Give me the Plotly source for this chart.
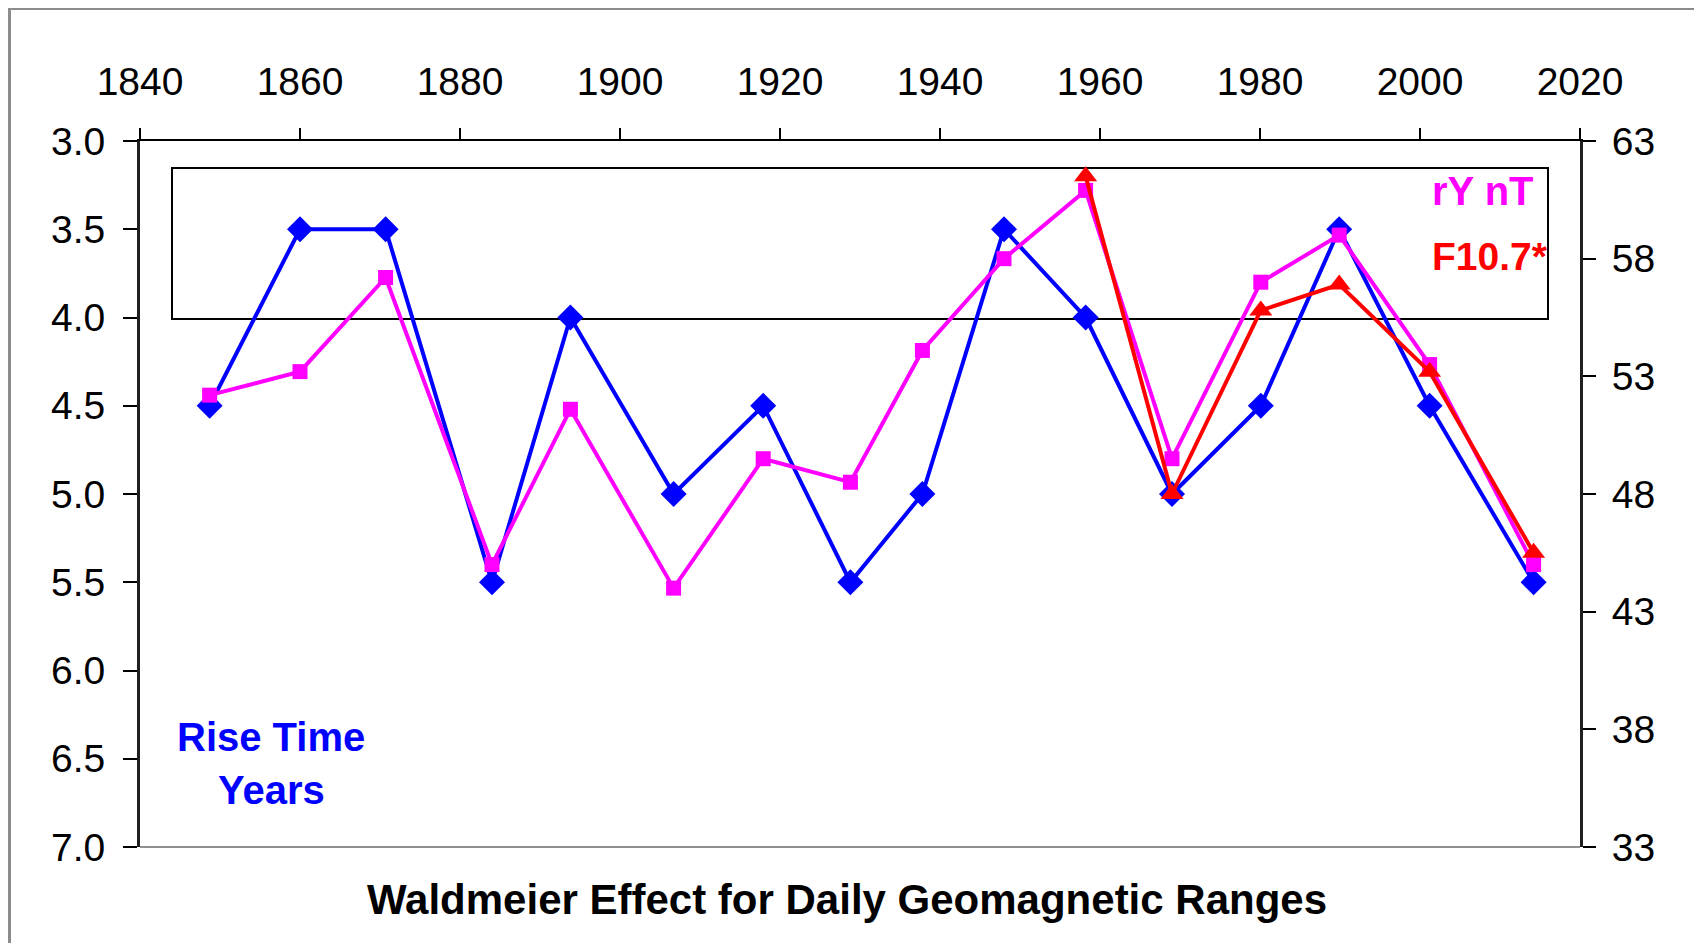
import plotly.graph_objects as go

# ---- data ----
cycle_years = [1848.7, 1860.0, 1870.7, 1884.0, 1893.8, 1906.7, 1917.9, 1928.8,
               1937.8, 1948.0, 1958.2, 1969.0, 1980.1, 1989.9, 2001.2, 2014.2]
rise_time_years = [4.5, 3.5, 3.5, 5.5, 4.0, 5.0, 4.5, 5.5,
                   5.0, 3.5, 4.0, 5.0, 4.5, 3.5, 4.5, 5.5]
ry_nT = [52.2, 53.2, 57.2, 45.0, 51.6, 44.0, 49.5, 48.5,
         54.1, 58.0, 60.9, 49.5, 57.0, 59.0, 53.5, 45.0]
f107_years = [1958.2, 1969.0, 1980.1, 1989.9, 2001.2, 2014.2]
f107_star = [61.5, 48.0, 55.8, 56.9, 53.2, 45.5]

x_ticks = [1840, 1860, 1880, 1900, 1920, 1940, 1960, 1980, 2000, 2020]
left_ticks = [3.0, 3.5, 4.0, 4.5, 5.0, 5.5, 6.0, 6.5, 7.0]
right_ticks = [33, 38, 43, 48, 53, 58, 63]

FONT = "Liberation Sans, Arial, sans-serif"
OFF = 8  # page body margin
W, H = 1694, 935
L, R, T, B = 140 - OFF, 1580 - OFF, 141 - OFF, 847 - OFF


def px(x):
    return (x - OFF - L) / (R - L)


def py(y):
    return (B - (y - OFF)) / (B - T)


fig = go.Figure()

fig.add_trace(go.Scatter(
    x=cycle_years, y=rise_time_years, mode="lines+markers",
    line=dict(color="#0000FF", width=4),
    marker=dict(symbol="diamond", size=20, color="#0000FF"),
    xaxis="x", yaxis="y", name="Rise Time"))

fig.add_trace(go.Scatter(
    x=cycle_years, y=ry_nT, mode="lines+markers",
    line=dict(color="#FF00FF", width=4),
    marker=dict(symbol="square", size=15, color="#FF00FF"),
    xaxis="x", yaxis="y2", name="rY nT"))

fig.add_trace(go.Scatter(
    x=f107_years, y=f107_star, mode="lines+markers",
    line=dict(color="#FF0000", width=4),
    marker=dict(symbol="triangle-up", size=20, color="#FF0000"),
    xaxis="x", yaxis="y2", name="F10.7*"))

tickfont = dict(family=FONT, size=39, color="#000000")

fig.update_layout(
    width=W, height=H,
    margin=dict(l=L, r=W - R, t=T, b=H - B, pad=0),
    paper_bgcolor="white", plot_bgcolor="white",
    showlegend=False,
    xaxis=dict(
        side="top", range=[1840, 2020], tickvals=x_ticks,
        ticktext=[str(v) for v in x_ticks],
        ticks="outside", ticklen=11, tickwidth=2, tickcolor="#000000",
        showline=True, linecolor="#000000", linewidth=2,
        showgrid=False, zeroline=False, tickfont=tickfont,
        ticklabelstandoff=17,
    ),
    yaxis=dict(
        range=[7, 3], tickvals=left_ticks,
        ticktext=[f"{v:.1f}" for v in left_ticks],
        ticks="outside", ticklen=14, tickwidth=2, tickcolor="#000000",
        showline=True, linecolor="#202020", linewidth=3,
        showgrid=False, zeroline=False, tickfont=tickfont,
        ticklabelstandoff=10,
    ),
    yaxis2=dict(
        overlaying="y", side="right", anchor="x",
        range=[33, 63], tickvals=right_ticks,
        ticktext=[str(v) for v in right_ticks],
        ticks="outside", ticklen=13, tickwidth=2, tickcolor="#000000",
        showline=True, linecolor="#202020", linewidth=3,
        showgrid=False, zeroline=False, tickfont=tickfont,
        ticklabelstandoff=8,
    ),
    yaxis3=dict(
        overlaying="y", side="right", anchor="x",
        range=[33, 63], tickvals=right_ticks,
        ticks="inside", ticklen=13, tickwidth=2, tickcolor="#000000",
        showticklabels=False, showline=False,
        showgrid=False, zeroline=False,
    ),
)

shapes = [
    # gray bottom frame line of plot area
    dict(type="line", xref="paper", yref="paper", x0=0, x1=1, y0=0, y1=0,
         line=dict(color="#909090", width=2)),
    # legend box
    dict(type="rect", xref="paper", yref="paper",
         x0=px(172), x1=px(1548), y0=py(319), y1=py(168),
         line=dict(color="#000000", width=2), layer="below"),
    # outer chart border
    dict(type="rect", xref="paper", yref="paper",
         x0=px(9.5), x1=px(1697), y0=py(970), y1=py(8.5),
         line=dict(color="#8c8c8c", width=3)),
]
fig.update_layout(shapes=shapes)

annotations = [
    dict(text="<b>Waldmeier Effect for Daily Geomagnetic Ranges</b>",
         x=px(847), y=py(899), font=dict(family=FONT, size=42, color="#000000")),
    dict(text="<b>Rise Time</b>", x=px(271), y=py(737),
         font=dict(family=FONT, size=40, color="#0000FF")),
    dict(text="<b>Years</b>", x=px(271), y=py(790),
         font=dict(family=FONT, size=40, color="#0000FF")),
    dict(text="<b>rY nT</b>", x=px(1430), y=py(191), xanchor="left",
         font=dict(family=FONT, size=40, color="#FF00FF")),
    dict(text="<b>F10.7*</b>", x=px(1430), y=py(256), xanchor="left",
         font=dict(family=FONT, size=39, color="#FF0000")),
]
for a in annotations:
    a.setdefault("xanchor", "center")
    a.update(xref="paper", yref="paper", yanchor="middle", showarrow=False)
fig.update_layout(annotations=annotations)

fig.write_html("out.html")
